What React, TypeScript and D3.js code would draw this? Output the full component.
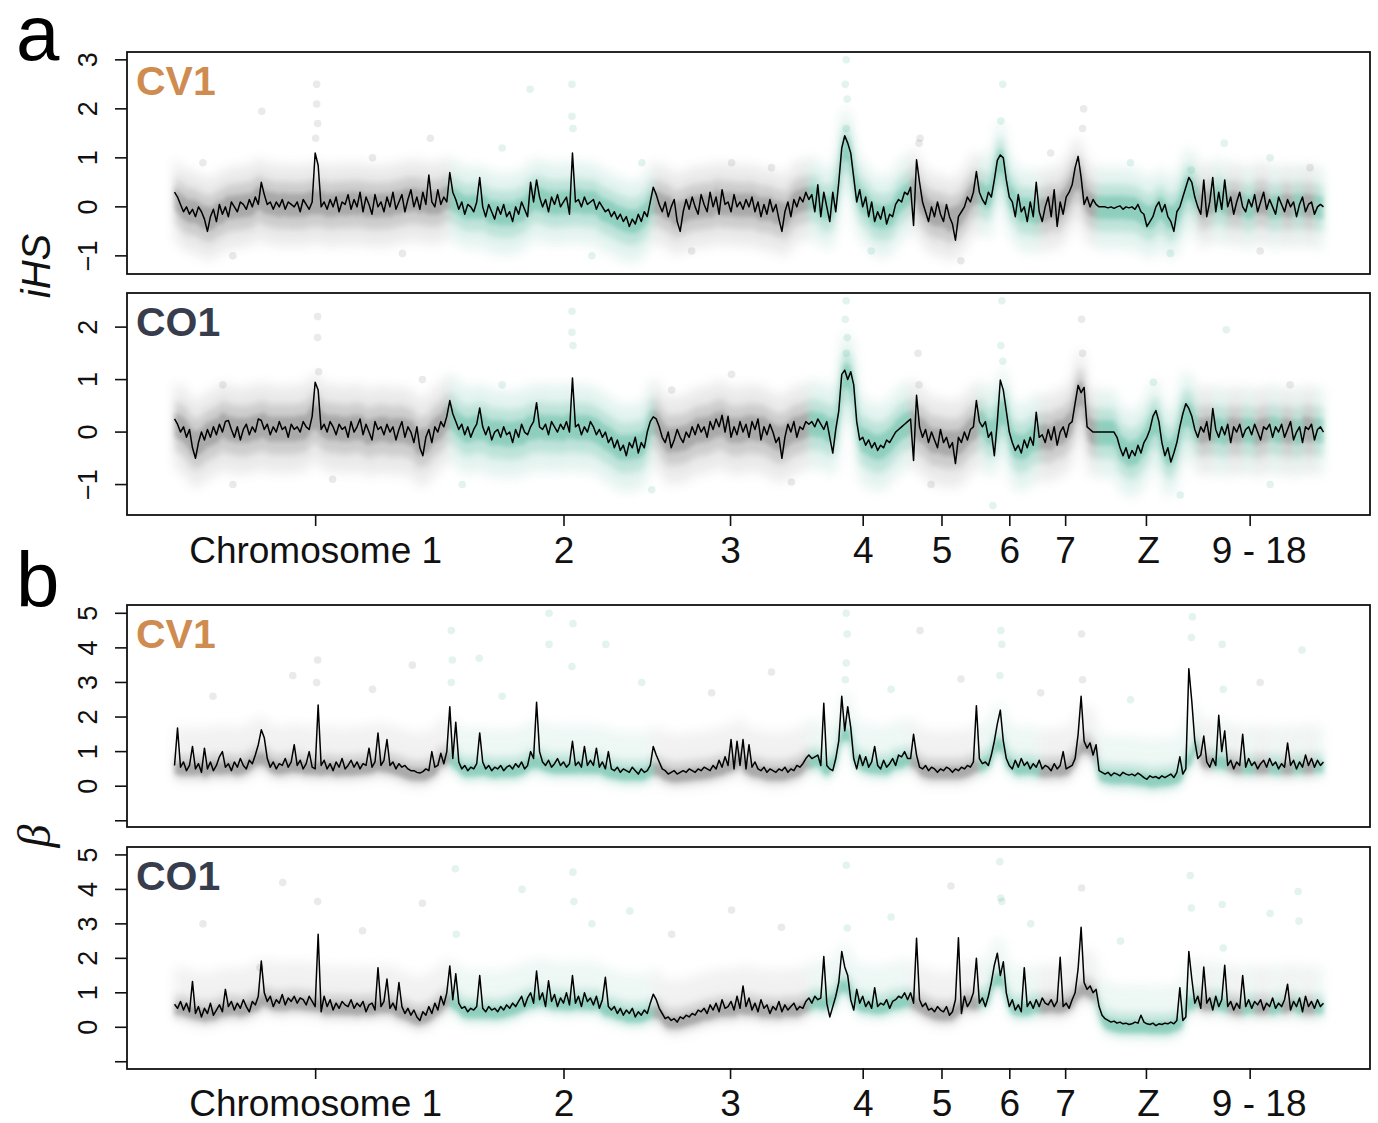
import React from "react";
import * as d3 from "d3";

// Genome layout (Mb): macrochromosomes 1-7, Z, then microchromosomes 9-18
const CHROM_NAMES = ["1", "2", "3", "4", "5", "6", "7", "Z", "9", "10", "11", "12", "13", "14", "15", "16", "17", "18"];
const CHROM_LENGTHS = [277, 204, 158, 100, 70, 61, 57, 101, 16, 15, 14, 13, 13, 12, 12, 11, 10, 10];
const AXIS_TICK_POS = [143, 392, 559, 692, 771, 839, 895, 976, 1080];
const AXIS_TICK_LABELS = ["Chromosome 1", "2", "3", "4", "5", "6", "7", "Z", "9 - 18"];
const AXIS_LABEL_SHIFT = [0, 0, 0, 0, 0, 0, 0, 2, 9];
const WINDOW_MB = 3;

// Sliding-window means, one value per 3 Mb window
const IHS_CV1 = [
  0.3, 0.2, 0.05, -0.1, 0.0, -0.15, -0.05, -0.2, 0.0, -0.1,
  -0.25, -0.5, -0.2, -0.05, -0.3, 0.05, -0.15, 0.0, -0.2, 0.1,
  0.0, -0.1, 0.1, 0.05, -0.05, 0.15, 0.0, 0.2, 0.05, 0.5,
  0.25, 0.05, 0.1, -0.05, 0.1, 0.0, 0.15, -0.05, 0.1, 0.05,
  0.0, 0.1, -0.1, 0.15, 0.05, -0.05, 0.1, 1.1, 0.85, 0.0,
  0.1, -0.05, 0.15, 0.0, 0.2, -0.1, 0.1, 0.05, 0.25, -0.05,
  0.15, 0.0, 0.3, -0.1, 0.2, 0.05, -0.15, 0.25, 0.0, 0.1,
  -0.1, 0.2, 0.0, 0.3, -0.05, 0.1, 0.25, -0.1, 0.15, 0.35,
  0.0, 0.2, -0.05, 0.3, 0.05, 0.65, 0.1, 0.0, 0.35, 0.05,
  0.2, 0.1, 0.7, 0.3, 0.15, -0.05, 0.1, -0.15, 0.05, 0.0,
  -0.1, 0.1, 0.6, 0.0, -0.2, 0.05, -0.1, -0.25, 0.0, -0.15,
  0.05, -0.2, -0.1, -0.3, 0.0, -0.15, 0.1, -0.05, -0.2, 0.5,
  0.1, 0.55, 0.2, 0.0, 0.15, -0.1, 0.2, 0.05, 0.25, 0.0,
  0.1, 0.2, -0.15, 1.1, 0.1, 0.15, 0.0, 0.2, 0.05, 0.1,
  0.15, -0.05, 0.1, 0.0, -0.1, -0.05, -0.2, -0.1, -0.25, -0.15,
  -0.3, -0.2, -0.4, -0.25, -0.35, -0.15, -0.3, -0.1, -0.2, 0.1,
  0.4, 0.25, 0.05, -0.1, 0.1, -0.2, 0.0, 0.15, -0.3, -0.5,
  -0.1, 0.15, -0.05, 0.2, 0.0, -0.15, 0.25, 0.05, -0.1, 0.3,
  0.0, 0.2, -0.15, 0.35, 0.05, 0.1, -0.1, 0.25, 0.0, 0.1,
  -0.05, 0.15, 0.0, 0.2, -0.1, 0.1, -0.2, 0.05, -0.15, 0.15,
  -0.1, 0.05, -0.25, -0.5, -0.1, 0.1, -0.2, 0.15, 0.0, 0.2,
  0.1, 0.3, 0.15, 0.25, -0.1, 0.45, -0.2, 0.3, 0.0, -0.3,
  0.3, -0.1, 0.5, 1.2, 1.45, 1.3, 1.1, 0.6, 0.1, 0.35,
  0.0, 0.2, -0.2, 0.1, -0.3, -0.1, -0.25, 0.0, -0.35, -0.15,
  -0.2, 0.05, 0.15, 0.1, 0.3, 0.25, 0.4, -0.38, 0.96, 0.5,
  0.1, -0.1, -0.3, 0.0, -0.2, 0.1, -0.15, -0.3, 0.05, -0.2,
  -0.35, -0.68, -0.2, -0.1, 0.0, 0.2, 0.1, 0.3, 0.72, 0.3,
  0.15, 0.05, 0.3, 0.2, 0.55, 0.95, 1.06, 1.0, 0.55, 0.2,
  0.1, -0.2, 0.25, -0.1, 0.0, -0.3, 0.1, -0.2, 0.5, -0.1,
  -0.3, 0.0, 0.2, -0.2, 0.35, -0.4, 0.1, -0.15, 0.2, 0.3,
  0.45, 0.8, 1.03, 0.6, 0.05, 0.2, 0.0, 0.15, 0.05, 0.0,
  0.0, 0.0, -0.02, 0.0, -0.03, 0.0, 0.02, -0.05, 0.0, -0.02,
  0.0, -0.05, 0.05, -0.1, -0.15, -0.4, -0.3, -0.2, 0.0, 0.1,
  -0.1, 0.05, -0.2, -0.3, -0.5, -0.1, 0.0, 0.2, 0.4, 0.6,
  0.5, 0.2, 0.0, -0.15, 0.55, -0.2, 0.1, 0.6, -0.1, 0.3,
  -0.05, 0.55, 0.0, 0.2, -0.15, 0.1, 0.3, 0.0, -0.1, 0.15,
  0.0, 0.25, -0.1, 0.1, 0.3, -0.05, 0.15, 0.0, -0.15, 0.2,
  0.05, -0.1, 0.15, 0.0, 0.1, -0.2, 0.05, 0.2, -0.1, 0.05,
  0.1, -0.15, 0.0, 0.05, 0.0,
];

const IHS_CO1 = [
  0.25, 0.15, 0.0, 0.1, -0.1, 0.05, -0.3, -0.5, -0.2, 0.0,
  -0.15, 0.05, -0.1, 0.1, -0.05, 0.15, 0.0, 0.2, 0.22, 0.05,
  -0.1, 0.1, -0.15, 0.05, 0.15, -0.05, 0.1, 0.0, 0.25, 0.22,
  0.05, 0.15, -0.05, 0.1, 0.0, 0.2, 0.05, 0.1, -0.1, 0.15,
  0.05, 0.1, 0.0, 0.2, 0.1, 0.05, 0.3, 0.95, 0.8, 0.05,
  0.15, 0.0, 0.2, 0.1, -0.05, 0.15, 0.05, 0.1, -0.1, 0.2,
  0.0, 0.1, 0.25, -0.05, 0.15, 0.0, -0.15, 0.2, 0.05, 0.1,
  -0.05, 0.15, 0.0, 0.1, -0.15, 0.05, 0.2, -0.1, 0.1, 0.0,
  -0.2, 0.1, -0.3, -0.45, -0.1, 0.05, -0.2, 0.1, 0.0, 0.2,
  0.1, 0.3, 0.6, 0.35, 0.2, 0.05, 0.15, -0.05, 0.1, -0.1,
  0.05, 0.15, 0.46, 0.1, -0.05, 0.1, -0.15, 0.0, 0.05, -0.1,
  0.1, -0.05, 0.0, -0.2, 0.05, -0.1, 0.15, 0.0, -0.05, 0.1,
  0.2, 0.56, 0.1, 0.05, 0.15, -0.05, 0.2, 0.1, 0.0, 0.15,
  0.05, 0.2, 0.0, 1.03, 0.1, 0.15, -0.05, 0.1, 0.0, 0.2,
  0.1, -0.05, 0.05, -0.1, 0.0, -0.2, -0.1, -0.3, -0.15, -0.35,
  -0.25, -0.45, -0.2, -0.3, -0.1, -0.4, -0.2, -0.3, 0.0, 0.2,
  0.29, 0.25, 0.1, -0.1, -0.2, 0.0, -0.3, -0.15, 0.05, -0.1,
  -0.2, 0.0, -0.1, 0.1, -0.05, 0.15, 0.0, 0.1, -0.1, 0.2,
  0.05, 0.25, 0.1, 0.32, 0.0, 0.3, -0.1, 0.1, -0.05, 0.2,
  0.0, 0.15, -0.1, 0.2, 0.05, 0.25, -0.15, 0.1, -0.05, 0.15,
  0.0, -0.2, -0.1, -0.5, -0.1, 0.15, 0.0, 0.2, -0.1, 0.1,
  0.05, 0.2, 0.15, 0.2, 0.1, 0.25, 0.15, 0.05, 0.2, -0.1,
  -0.4, 0.05, 0.4, 1.1, 1.18, 1.0, 1.15, 0.9, 0.2, -0.15,
  -0.1, -0.25, -0.15, -0.3, -0.2, -0.35, -0.25, -0.3, -0.15, -0.2,
  -0.1, 0.0, 0.05, 0.1, 0.15, 0.2, 0.25, -0.54, 0.7, 0.1,
  -0.1, 0.05, -0.2, 0.0, -0.15, -0.3, 0.05, -0.2, -0.1, -0.3,
  -0.2, -0.6, -0.1, -0.2, 0.0, -0.15, 0.05, 0.1, 0.6, 0.2,
  0.1, 0.2, -0.1, 0.0, -0.45, 0.2, 0.99, 0.8, 0.4, 0.0,
  -0.2, -0.35, -0.25, -0.4, -0.15, -0.3, -0.1, -0.25, 0.38, -0.1,
  -0.05, -0.2, 0.05, -0.15, 0.1, -0.25, 0.0, 0.1, -0.1, 0.15,
  0.2, 0.55, 0.89, 0.75, 0.85, 0.1, 0.05, 0.0, 0.0, 0.0,
  0.0, 0.0, 0.0, 0.0, 0.0, -0.1, -0.3, -0.45, -0.3, -0.5,
  -0.35, -0.45, -0.25, -0.4, -0.2, -0.1, 0.05, 0.3, 0.41, 0.2,
  -0.2, -0.45, -0.3, -0.57, -0.4, -0.2, 0.1, 0.35, 0.54, 0.45,
  0.3, 0.05, -0.1, 0.1, 0.0, 0.2, -0.15, 0.45, 0.05, -0.1,
  0.1, -0.05, 0.15, -0.2, 0.1, 0.0, 0.15, -0.1, 0.05, 0.1,
  -0.05, 0.15, 0.0, -0.15, 0.1, 0.05, 0.15, -0.1, 0.1, 0.0,
  0.15, -0.1, 0.05, 0.2, -0.15, 0.0, 0.1, -0.2, 0.1, 0.05,
  0.15, -0.15, 0.05, 0.1, 0.0,
];

const BETA_CV1 = [
  0.6, 1.68, 0.55, 0.7, 0.45, 0.6, 1.15, 0.5, 0.65, 0.4,
  1.1, 0.5, 0.7, 0.45, 0.6, 0.85, 1.0, 0.55, 0.65, 0.45,
  0.7, 0.55, 0.8, 0.6, 0.5, 0.75, 0.65, 0.9, 1.2, 1.63,
  1.4, 0.8, 0.55, 0.7, 0.5, 0.65, 0.6, 0.8, 0.55, 0.7,
  1.2, 0.6, 0.75, 0.5, 0.65, 1.0, 0.55, 0.5, 2.35, 0.6,
  0.75, 0.5, 0.65, 0.45, 0.7, 0.55, 0.8, 0.5, 0.6, 0.75,
  0.55, 0.7, 0.5, 0.65, 0.6, 1.1, 0.55, 0.7, 1.54, 0.6,
  0.75, 1.35, 0.6, 0.7, 0.5, 0.65, 0.55, 0.6, 0.5, 0.45,
  0.45, 0.4, 0.38, 0.42, 0.5, 0.45, 1.0, 0.55, 0.6, 0.95,
  0.65, 1.0, 2.3, 0.8, 1.85, 0.7, 0.5, 0.6, 0.45, 0.55,
  0.5, 0.65, 1.54, 0.7, 0.5, 0.6, 0.45, 0.55, 0.5, 0.6,
  0.45, 0.55, 0.6, 0.5, 0.65, 0.55, 0.7, 0.5, 0.6, 1.0,
  0.8, 2.43, 1.0, 0.7, 0.6, 0.75, 0.55, 0.65, 0.8, 0.6,
  0.7, 0.55, 0.65, 1.3, 0.6, 0.7, 0.55, 1.15, 0.6, 0.75,
  0.6, 1.1, 0.55, 0.7, 0.5, 1.0, 0.5, 0.45, 0.55, 0.4,
  0.5, 0.45, 0.4, 0.55, 0.45, 0.35, 0.5, 0.4, 0.45, 0.6,
  1.15, 0.9, 0.7, 0.5, 0.45, 0.35, 0.4, 0.45, 0.35, 0.4,
  0.45, 0.4, 0.5, 0.45, 0.4, 0.5, 0.45, 0.55, 0.5, 0.45,
  0.6, 0.5, 0.75, 0.55, 0.85, 0.6, 1.35, 0.5, 1.3, 0.6,
  1.35, 0.5, 1.2, 0.55, 0.7, 0.5, 0.45, 0.55, 0.4, 0.5,
  0.45, 0.4, 0.5, 0.45, 0.55, 0.4, 0.5, 0.45, 0.6, 0.55,
  0.65, 0.8, 0.9, 0.8, 0.85, 0.9, 0.6, 2.4, 0.6, 0.5,
  0.45, 0.8, 1.3, 2.6, 1.6, 2.3, 1.7, 0.8, 0.5, 0.9,
  0.6, 0.85, 0.55, 0.7, 1.15, 0.6, 0.5, 0.75, 0.55, 0.65,
  0.8, 0.6, 0.9, 0.85, 1.0, 0.8, 0.8, 1.5, 0.9, 0.55,
  0.5, 0.6, 0.45, 0.55, 0.5, 0.4, 0.5, 0.45, 0.55, 0.5,
  0.4, 0.5, 0.45, 0.55, 0.5, 0.6, 0.55, 0.7, 2.33, 0.8,
  0.65, 0.7, 0.6, 0.9, 1.3, 1.8, 2.2, 1.3, 0.8, 0.6,
  0.5, 0.75, 0.55, 0.8, 0.6, 0.7, 0.5, 0.65, 0.55, 0.75,
  0.5, 0.6, 0.55, 0.45, 0.65, 0.5, 0.6, 1.0, 0.5, 0.55,
  0.6, 0.8, 1.5, 2.6, 1.3, 1.1, 1.25, 0.9, 1.2, 0.45,
  0.4, 0.35, 0.4, 0.3, 0.38, 0.35, 0.3, 0.4, 0.35, 0.32,
  0.35, 0.3, 0.38, 0.32, 0.25, 0.2, 0.3, 0.25, 0.28, 0.22,
  0.3, 0.25, 0.3, 0.35, 0.25, 0.4, 0.85, 0.35, 0.5, 3.4,
  2.45, 1.3, 0.8, 0.9, 1.45, 0.7, 0.55, 0.8, 0.6, 2.05,
  1.0, 1.6, 0.6, 0.75, 0.5, 0.7, 0.6, 1.5, 0.55, 0.8,
  0.6, 0.7, 0.5, 0.65, 0.75, 0.55, 0.8, 0.6, 0.7, 0.5,
  0.65, 0.55, 1.25, 0.6, 0.75, 0.5, 0.7, 0.55, 0.9, 0.6,
  0.8, 0.55, 0.75, 0.6, 0.7,
];

const BETA_CO1 = [
  0.67, 0.55, 0.75, 0.5, 0.7, 0.45, 1.33, 0.4, 0.6, 0.3,
  0.55, 0.4, 0.7, 0.35, 0.5, 0.65, 0.45, 1.1, 0.6, 0.75,
  0.5, 0.7, 0.55, 0.8, 0.6, 0.45, 0.75, 0.65, 0.9, 1.92,
  1.0, 0.75, 0.9, 0.6, 0.8, 0.7, 0.95, 0.65, 0.85, 0.75,
  0.9, 0.7, 0.85, 0.8, 0.65, 0.9, 0.75, 0.6, 2.7, 0.45,
  0.9, 0.6, 0.8, 0.5, 0.7, 0.55, 0.75, 0.65, 0.6, 0.8,
  0.55, 0.7, 0.6, 0.75, 0.45, 0.65, 0.7, 0.5, 1.73, 0.6,
  0.75, 1.4, 0.55, 0.7, 0.5, 1.3, 0.6, 0.4, 0.55, 0.35,
  0.5, 0.3, 0.2, 0.45, 0.35, 0.6, 0.4, 0.7, 0.5, 0.9,
  0.65, 1.0, 1.78, 0.8, 1.55, 0.7, 0.55, 0.6, 0.45, 0.55,
  0.5, 0.6, 1.5, 0.55, 0.45, 0.6, 0.5, 0.55, 0.45, 0.6,
  0.5, 0.65, 0.55, 0.7, 0.6, 0.75, 0.9, 0.6, 0.85, 1.0,
  0.7, 1.63, 0.8, 1.0, 0.6, 1.35, 0.75, 0.95, 0.6, 0.85,
  0.7, 1.0, 0.65, 1.5, 0.7, 0.9, 0.6, 1.0, 0.75, 0.85,
  0.65, 0.9, 0.55, 0.8, 1.45, 0.6, 0.5, 0.6, 0.4, 0.55,
  0.35, 0.5, 0.4, 0.55, 0.3, 0.45, 0.35, 0.5, 0.4, 0.7,
  0.96, 0.8, 0.55, 0.4, 0.25, 0.3, 0.2, 0.25, 0.15, 0.3,
  0.25, 0.35, 0.3, 0.4, 0.35, 0.5, 0.45, 0.55, 0.4, 0.65,
  0.5, 0.7, 0.45, 0.8, 0.55, 0.6, 0.75, 0.5, 0.9, 0.55,
  1.2, 0.6, 0.85, 0.5, 0.7, 0.45, 0.8, 0.55, 0.65, 0.4,
  0.6, 0.5, 0.75, 0.45, 0.65, 0.5, 0.6, 0.7, 0.5, 0.6,
  0.55, 0.75, 0.85, 0.7, 0.9, 0.8, 0.85, 2.05, 0.7, 0.3,
  0.6, 0.9, 1.3, 2.2, 1.75, 1.5, 0.8, 0.5, 1.1, 0.7,
  0.9, 0.6, 0.75, 0.55, 1.15, 0.6, 0.7, 0.65, 0.8, 0.55,
  0.75, 0.8, 0.9, 0.85, 1.0, 0.8, 1.0, 0.7, 2.58, 0.8,
  0.6, 0.7, 0.5, 0.55, 0.45, 0.6, 0.5, 0.45, 0.6, 0.35,
  0.45, 0.8, 2.6, 0.4, 0.9, 0.6, 0.75, 1.0, 2.0, 0.7,
  0.85, 0.6, 0.9, 1.3, 1.8, 2.15, 1.5, 1.9, 1.0, 0.6,
  0.8, 0.5, 0.65, 0.45, 1.73, 0.6, 0.75, 0.55, 0.8, 0.6,
  0.85, 0.7, 0.65, 0.8, 0.6, 0.75, 2.03, 0.6, 0.7, 0.55,
  0.8, 1.0, 1.7, 2.9, 1.3, 1.1, 1.2, 1.0, 1.1, 0.6,
  0.35, 0.25, 0.2, 0.15, 0.18, 0.12, 0.15, 0.1, 0.12, 0.08,
  0.1, 0.15, 0.12, 0.35, 0.15, 0.1, 0.08, 0.12, 0.05, 0.1,
  0.08, 0.12, 0.1, 0.15, 0.1, 0.2, 1.15, 0.2, 0.3, 2.2,
  1.4, 0.7, 0.9, 0.55, 1.75, 0.7, 0.85, 0.5, 0.9, 0.6,
  0.8, 1.8, 0.6, 0.75, 0.5, 0.7, 0.55, 1.5, 0.6, 0.8,
  0.55, 0.75, 0.65, 0.8, 0.5, 0.7, 0.6, 0.85, 0.55, 0.7,
  0.6, 0.8, 1.25, 0.5, 0.75, 0.6, 0.85, 0.45, 0.9, 0.6,
  0.75, 0.55, 0.8, 0.6, 0.7,
];

// Individual SNP scores away from the dense cloud: [position Mb, score]
const IHS_CV1_SNPS = [
  [144, 2.5], [144, 2.1], [145, 1.7], [143, 1.4], [258, 1.4], [89, 1.95], [358, 2.4], [400, 2.5],
  [400, 1.85], [401, 1.6], [560, 0.9], [675, 3.0], [674, 2.5], [676, 2.2], [675, 1.6], [749, 1.4],
  [748, 1.3], [832, 2.5], [830, 1.75], [913, 2.0], [912, 1.6], [1021, 0.75], [1054, 1.3], [60, -1.0],
  [230, -0.95], [420, -1.0], [520, -0.9], [700, -0.9], [790, -1.1], [1000, -0.95], [1090, -0.9],
  [30, 0.9], [200, 1.0], [330, 1.2], [470, 0.9], [600, 0.8], [1100, 1.0], [1140, 0.8], [880, 1.1], [960, 0.9],
];
const IHS_CO1_SNPS = [
  [145, 2.2], [145, 1.8], [146, 1.15], [400, 2.3], [400, 1.9], [401, 1.65], [675, 2.5], [674, 2.15],
  [676, 1.8], [675, 1.5], [747, 1.5], [748, 0.9], [831, 2.5], [830, 1.65], [832, 1.35], [911, 2.15],
  [912, 1.5], [983, 0.95], [1056, 1.95], [822, -1.4], [60, -1.0], [160, -0.9], [290, -1.0], [480, -1.1],
  [620, -0.95], [760, -1.0], [1010, -1.2], [1100, -1.0], [50, 0.9], [250, 1.0], [330, 0.9], [500, 0.8],
  [560, 1.1], [1120, 0.9],
];
const BETA_CV1_SNPS = [
  [145, 3.65], [144, 3.0], [279, 4.5], [280, 3.65], [279, 3.0], [377, 5.0], [377, 4.1], [401, 4.7],
  [400, 3.46], [307, 3.7], [434, 4.1], [675, 5.0], [676, 4.4], [675, 3.56], [674, 3.08], [749, 4.5],
  [830, 4.5], [831, 4.1], [829, 3.2], [911, 4.4], [912, 3.08], [1022, 4.9], [1021, 4.3], [1052, 4.1],
  [1053, 2.8], [1132, 3.94], [40, 2.6], [120, 3.2], [200, 2.8], [240, 3.5], [330, 2.6], [470, 3.0],
  [540, 2.7], [600, 3.3], [720, 2.8], [790, 3.1], [870, 2.7], [960, 2.5], [1090, 3.0],
];
const BETA_CO1_SNPS = [
  [145, 3.65], [87, 1.73], [283, 4.6], [284, 2.7], [401, 4.5], [402, 3.65], [458, 3.37], [675, 4.7],
  [676, 2.88], [830, 3.75], [831, 3.65], [829, 4.8], [911, 4.04], [1020, 4.4], [1021, 3.46], [1052, 3.56],
  [1053, 2.3], [1128, 3.94], [1129, 3.08], [30, 3.0], [110, 4.2], [190, 2.8], [250, 3.6], [350, 4.0],
  [420, 3.0], [500, 2.7], [560, 3.4], [610, 2.9], [720, 3.2], [780, 4.1], [860, 3.0], [950, 2.5], [1100, 3.3],
];

const GRAY = "#5a5a5a";
const TEAL = "#25a382";
const FONT = "'Liberation Sans', Arial, Helvetica, sans-serif";

type Kind = "ihs" | "beta";

interface PanelSpec {
  top: number;
  values: number[];
  snps: number[][];
  domain: [number, number];
  ticks: number[];
  hideTick: number | null;
  name: string;
  nameColor: string;
  kind: Kind;
}

const PANELS: PanelSpec[] = [
  { top: 52, values: IHS_CV1, snps: IHS_CV1_SNPS, domain: [-1.37, 3.16], ticks: [-1, 0, 1, 2, 3], hideTick: null, name: "CV1", nameColor: "#CF8C50", kind: "ihs" },
  { top: 293, values: IHS_CO1, snps: IHS_CO1_SNPS, domain: [-1.58, 2.65], ticks: [-1, 0, 1, 2], hideTick: null, name: "CO1", nameColor: "#383D4D", kind: "ihs" },
  { top: 605, values: BETA_CV1, snps: BETA_CV1_SNPS, domain: [-1.18, 5.24], ticks: [-1, 0, 1, 2, 3, 4, 5], hideTick: -1, name: "CV1", nameColor: "#CF8C50", kind: "beta" },
  { top: 847, values: BETA_CO1, snps: BETA_CO1_SNPS, domain: [-1.21, 5.23], ticks: [-1, 0, 1, 2, 3, 4, 5], hideTick: -1, name: "CO1", nameColor: "#383D4D", kind: "beta" },
];

// Cloud layers: [below centre, above centre, opacity, blur]
const CLOUD_LAYERS: Record<Kind, number[][]> = {
  ihs: [
    [0.85, 0.8, 0.12, 6],
    [0.5, 0.45, 0.2, 3.5],
    [0.25, 0.22, 0.3, 2],
  ],
  beta: [
    [0.5, 1.1, 0.08, 6],
    [0.38, 0.3, 0.2, 3.5],
    [0.28, 0.06, 0.34, 2],
  ],
};

const PLOT_LEFT = 127;
const PLOT_RIGHT = 1370;
const PANEL_H = 222;

function rollingMedian(vals: number[], k: number): number[] {
  const h = Math.floor(k / 2);
  return vals.map((_, i) => d3.median(vals.slice(Math.max(0, i - h), i + h + 1)) as number);
}

export default function App() {
  const ends = d3.cumsum(CHROM_LENGTHS);
  const starts = ends.map((e, i) => e - CHROM_LENGTHS[i]);
  const total = ends[ends.length - 1];
  const pad = total * 0.04;
  const x = d3.scaleLinear().domain([-pad, total + pad]).range([PLOT_LEFT, PLOT_RIGHT]);
  const chromOf = (g: number) => {
    const idx = d3.bisectRight(Array.from(ends), g);
    return Math.min(idx, CHROM_NAMES.length - 1);
  };
  const colorOf = (c: number) => (c % 2 === 0 ? GRAY : TEAL);

  return (
    <svg width={1378} height={1123} style={{ position: "absolute", left: 0, top: 0, background: "#fff" }} fontFamily={FONT}>
      <defs>
        {[2, 3.5, 6].map((b) => (
          <filter key={b} id={`blur${String(b).replace(".", "_")}`} x="-5%" y="-50%" width="110%" height="200%">
            <feGaussianBlur stdDeviation={b} />
          </filter>
        ))}
        {PANELS.map((p, pi) => (
          <clipPath key={pi} id={`clip${pi}`}>
            <rect x={PLOT_LEFT} y={p.top} width={PLOT_RIGHT - PLOT_LEFT} height={PANEL_H} />
          </clipPath>
        ))}
      </defs>
      <rect width={1378} height={1123} fill="#fff" />

      {PANELS.map((p, pi) => {
        const y = d3.scaleLinear().domain(p.domain).range([p.top + PANEL_H, p.top]);
        const pos = p.values.map((_, i) => WINDOW_MB / 2 + i * WINDOW_MB);
        const centre = rollingMedian(p.values, p.kind === "ihs" ? 5 : 7);
        const line = d3
          .line<number>()
          .x((_, i) => x(pos[i]))
          .y((v) => y(v));
        const layers = CLOUD_LAYERS[p.kind];
        return (
          <g key={pi}>
            <g clipPath={`url(#clip${pi})`}>
              {layers.map(([lo, hi, op, blur], li) => (
                <g key={li} filter={`url(#blur${String(blur).replace(".", "_")})`} opacity={op}>
                  {CHROM_NAMES.map((_, c) => {
                    const idx = d3.range(p.values.length).filter((i) => pos[i] >= starts[c] - 2 && pos[i] <= ends[c] + 2);
                    if (idx.length < 2) return null;
                    const area = d3
                      .area<number>()
                      .curve(d3.curveBasis)
                      .x((i) => x(pos[i]))
                      .y0((i) => y(centre[i] - lo))
                      .y1((i) => y(centre[i] + hi));
                    return <path key={c} d={area(idx) || ""} fill={colorOf(c)} />;
                  })}
                </g>
              ))}
              {p.snps.map(([g, v], si) => (
                <circle key={si} cx={x(g)} cy={y(v)} r={3.8} fill={colorOf(chromOf(g))} opacity={0.13} />
              ))}
              <path d={line(p.values) || ""} fill="none" stroke="#000" strokeWidth={1.5} strokeLinejoin="round" />
            </g>
            <rect x={PLOT_LEFT} y={p.top} width={PLOT_RIGHT - PLOT_LEFT} height={PANEL_H} fill="none" stroke="#111" strokeWidth={1.8} />
            {p.ticks.map((t) => (
              <g key={t}>
                <line x1={PLOT_LEFT - 12} x2={PLOT_LEFT} y1={y(t)} y2={y(t)} stroke="#111" strokeWidth={1.6} />
                {t !== p.hideTick && (
                  <text transform={`translate(97,${y(t)}) rotate(-90)`} textAnchor="middle" fontSize={27} fill="#111">
                    {t < 0 ? `\u2212${Math.abs(t)}` : String(t)}
                  </text>
                )}
              </g>
            ))}
            <text x={136} y={p.top + 43} fontSize={41} fontWeight="bold" fill={p.nameColor}>
              {p.name}
            </text>
          </g>
        );
      })}

      {[515, 1068].map((axisY) => (
        <g key={axisY}>
          {AXIS_TICK_POS.map((g, ti) => (
            <g key={ti}>
              <line x1={x(g)} x2={x(g)} y1={axisY} y2={axisY + 11} stroke="#111" strokeWidth={1.6} />
              <text x={x(g) + AXIS_LABEL_SHIFT[ti]} y={axisY + 48} textAnchor="middle" fontSize={37} fill="#111">
                {AXIS_TICK_LABELS[ti]}
              </text>
            </g>
          ))}
        </g>
      ))}

      <text transform="translate(50,266) rotate(-90)" textAnchor="middle" fontSize={40} fontStyle="italic" fill="#111">
        iHS
      </text>
      <text transform="translate(50,836) rotate(-90)" textAnchor="middle" fontSize={46} fontStyle="italic" fontFamily="'Liberation Serif', 'DejaVu Serif', serif" fill="#111">
        β
      </text>

      <text x={16} y={60} fontSize={78} fill="#000">a</text>
      <text x={16} y={607} fontSize={78} fill="#000">b</text>
    </svg>
  );
}
